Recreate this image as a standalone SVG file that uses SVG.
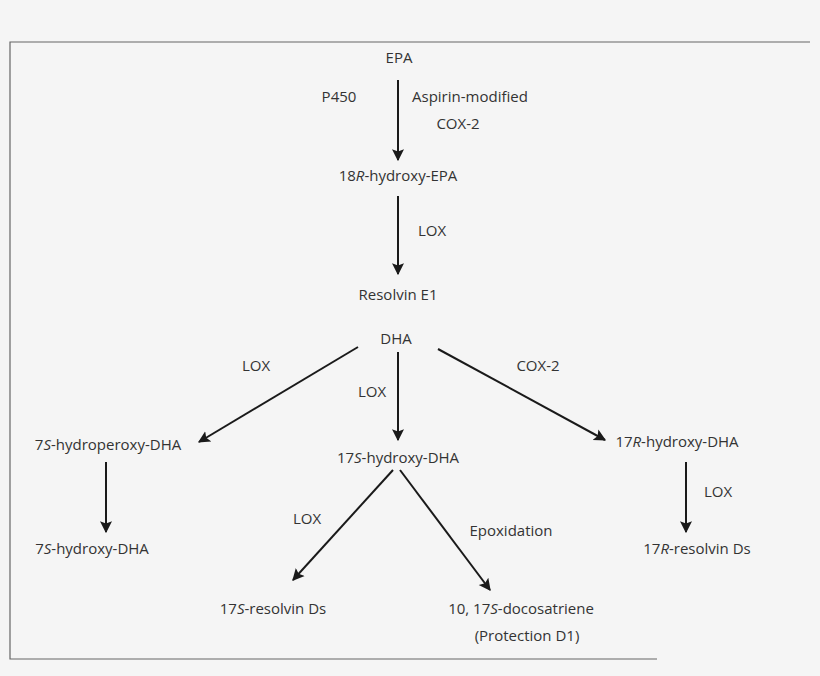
<svg xmlns="http://www.w3.org/2000/svg" width="820" height="676" viewBox="0 0 820 676">
<style>
text{font-family:"Open Sans","Liberation Sans",sans-serif;font-size:15px;fill:#333;text-anchor:middle}
.c line{stroke:#1a1a1a;stroke-width:2;marker-end:url(#a)}
</style>
<defs><marker id="a" viewBox="0 0 10 10" refX="9" refY="5" markerWidth="6" markerHeight="7" orient="auto" markerUnits="strokeWidth"><path d="M0,0 L10,5 L0,10 L2,5 Z" fill="#1a1a1a"/></marker></defs>
<rect width="820" height="676" fill="#f5f5f5"/>
<path d="M810,42 H10 V659 H657" fill="none" stroke="#666" stroke-width="1.2"/>
<g class="c">
<line x1="398" y1="80" x2="398" y2="160"/>
<line x1="398" y1="196" x2="398" y2="274"/>
<line x1="358" y1="347" x2="199" y2="442"/>
<line x1="398" y1="352" x2="398" y2="440"/>
<line x1="438" y1="349" x2="605" y2="440"/>
<line x1="106" y1="462" x2="106" y2="532"/>
<line x1="686" y1="462" x2="686" y2="532"/>
<line x1="393" y1="470" x2="293" y2="580"/>
<line x1="400" y1="470" x2="490" y2="590"/>
</g>
<g id="labels">
<text x="339" y="102">P450</text>
<text x="412" y="102" style="text-anchor:start">Aspirin-modified</text>
<text x="458" y="129">COX-2</text>
<text x="432" y="236">LOX</text>
<text x="256" y="371">LOX</text>
<text x="372" y="397">LOX</text>
<text x="538" y="371">COX-2</text>
<text x="718" y="497">LOX</text>
<text x="307" y="524">LOX</text>
<text x="511" y="536">Epoxidation</text>
</g>
<g id="epa"><text x="399" y="63">EPA</text></g>
<g id="hepa"><text x="398" y="181">18<tspan font-style="italic">R</tspan>-hydroxy-EPA</text></g>
<g id="re1"><text x="398" y="300">Resolvin E1</text></g>
<g id="dha"><text x="396" y="344">DHA</text></g>
<g id="hp7"><text x="108" y="450">7<tspan font-style="italic">S</tspan>-hydroperoxy-DHA</text></g>
<g id="h17s"><text x="398" y="463">17<tspan font-style="italic">S</tspan>-hydroxy-DHA</text></g>
<g id="h17r"><text x="677" y="447">17<tspan font-style="italic">R</tspan>-hydroxy-DHA</text></g>
<g id="h7s"><text x="92" y="554">7<tspan font-style="italic">S</tspan>-hydroxy-DHA</text></g>
<g id="r17r"><text x="697" y="554">17<tspan font-style="italic">R</tspan>-resolvin Ds</text></g>
<g id="r17s"><text x="273" y="614">17<tspan font-style="italic">S</tspan>-resolvin Ds</text></g>
<g id="doco"><text x="521" y="614">10,  17<tspan font-style="italic">S</tspan>-docosatriene</text><text x="527" y="641">(Protection D1)</text></g>
</svg>
